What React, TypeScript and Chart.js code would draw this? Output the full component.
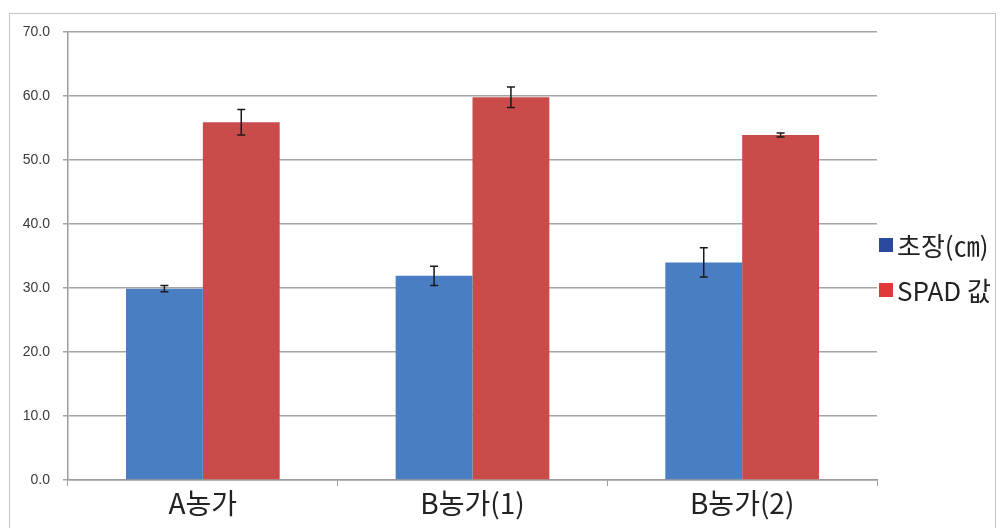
import React, { useEffect, useRef } from "react";
import { Chart, registerables } from "chart.js";

Chart.register(...registerables);

const categories = ["A농가", "B농가(1)", "B농가(2)"];
const seriesNames = ["초장(㎝)", "SPAD 값"];
const heightValues = [29.9, 31.9, 34.0];
const heightErrors = [0.5, 1.5, 2.3];
const spadValues = [55.9, 59.8, 53.9];
const spadErrors = [2.0, 1.6, 0.3];
const yTicks = [0, 10, 20, 30, 40, 50, 60, 70];

const errorsBySeries = [heightErrors, spadErrors];

const errorBarPlugin = {
  id: "errorBars",
  afterDatasetsDraw(chart: any) {
    const ctx = chart.ctx;
    const yScale = chart.scales.y;
    ctx.save();
    ctx.strokeStyle = "#1a1a1a";
    ctx.lineWidth = 1.5;
    chart.data.datasets.forEach((ds: any, di: number) => {
      const meta = chart.getDatasetMeta(di);
      meta.data.forEach((bar: any, i: number) => {
        const v = ds.data[i];
        const e = errorsBySeries[di][i];
        const x = bar.x;
        const yTop = yScale.getPixelForValue(v + e);
        const yBot = yScale.getPixelForValue(v - e);
        const cap = 4;
        ctx.beginPath();
        ctx.moveTo(x, yTop);
        ctx.lineTo(x, yBot);
        ctx.moveTo(x - cap, yTop);
        ctx.lineTo(x + cap, yTop);
        ctx.moveTo(x - cap, yBot);
        ctx.lineTo(x + cap, yBot);
        ctx.stroke();
      });
    });
    ctx.restore();
  },
};

export default function App() {
  const ref = useRef<HTMLCanvasElement | null>(null);
  useEffect(() => {
    if (!ref.current) return;
    const chart = new Chart(ref.current, {
      type: "bar",
      data: {
        labels: categories,
        datasets: [
          {
            label: seriesNames[0],
            data: heightValues,
            backgroundColor: "#4a7ec2",
            borderWidth: 0,
            barPercentage: 1,
            categoryPercentage: 0.57,
          },
          {
            label: seriesNames[1],
            data: spadValues,
            backgroundColor: "#c94c4b",
            borderWidth: 0,
            barPercentage: 1,
            categoryPercentage: 0.57,
          },
        ],
      },
      options: {
        animation: false,
        responsive: false,
        maintainAspectRatio: false,
        layout: { padding: { left: 9, top: 32, right: 124, bottom: 0 } },
        plugins: { legend: { display: false }, tooltip: { enabled: false } },
        scales: {
          x: {
            grid: {
              display: true,
              drawOnChartArea: false,
              drawTicks: true,
              tickLength: 6,
              color: "#a09a9a",
              offset: true,
            },
            border: { display: true, color: "#a09a9a", width: 1.5 },
            ticks: {
              color: "#222222",
              font: { family: "'Noto Sans CJK KR', 'Noto Sans', sans-serif", size: 28 },
              padding: 1,
            },
            afterFit: (s: any) => {
              s.height = 48;
            },
          },
          y: {
            min: 0,
            max: 70,
            afterBuildTicks: (s: any) => {
              s.ticks = yTicks.map((v) => ({ value: v }));
            },
            grid: {
              color: "#aaa2a2",
              lineWidth: 1.5,
              drawTicks: true,
              tickLength: 5,
            },
            border: { display: true, color: "#a09a9a", width: 1.5 },
            ticks: {
              color: "#3a3a3a",
              font: { family: "'Liberation Sans', Arial, sans-serif", size: 14 },
              padding: 13,
              callback: (v: any) => Number(v).toFixed(1),
            },
            afterFit: (s: any) => {
              s.width = 59;
            },
          },
        },
      },
      plugins: [errorBarPlugin],
    });
    return () => chart.destroy();
  }, []);

  const legendText: React.CSSProperties = {
    fontFamily: "'Noto Sans CJK KR', 'Noto Sans', sans-serif",
    fontSize: 26,
    color: "#222",
    lineHeight: "30px",
    display: "flex",
    alignItems: "center",
    position: "absolute",
    left: 879,
    whiteSpace: "nowrap",
  };
  const sw = (c: string): React.CSSProperties => ({
    width: 14,
    height: 14,
    background: c,
    marginRight: 4,
    display: "inline-block",
    flex: "none",
  });

  return (
    <div
      style={{
        position: "fixed",
        left: 0,
        top: 0,
        width: 1001,
        height: 528,
        background: "#fff",
        overflow: "hidden",
      }}
    >
      <div
        style={{
          position: "absolute",
          left: 9,
          top: 13,
          width: 987,
          height: 530,
          border: "1.5px solid #c8c4c4",
          boxSizing: "border-box",
        }}
      />
      <canvas ref={ref} width={1001} height={528} style={{ position: "absolute", left: 0, top: 0 }} />
      <div style={{ ...legendText, top: 230 }}>
        <span style={sw("#2a4a9e")} />
        {seriesNames[0]}
      </div>
      <div style={{ ...legendText, top: 275 }}>
        <span style={sw("#e0393a")} />
        {seriesNames[1]}
      </div>
    </div>
  );
}
